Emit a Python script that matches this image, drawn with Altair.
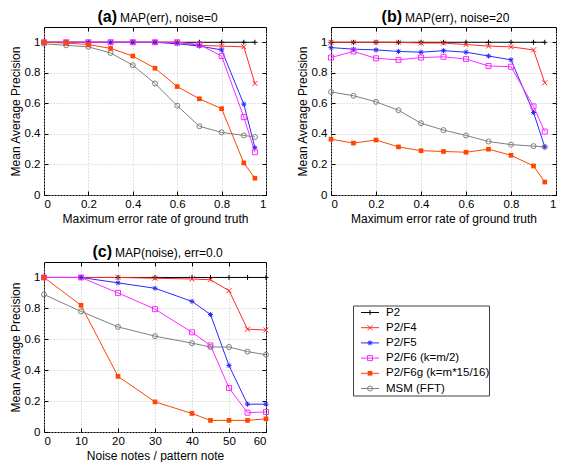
import altair as alt
import pandas as pd

FONT = "Liberation Sans"

# ---------------- data ----------------
series_names = ["P2", "P2/F4", "P2/F5", "P2/F6 (k=m/2)", "P2/F6g (k=m*15/16)", "MSM (FFT)"]

x_err = [0, 0.1, 0.2, 0.3, 0.4, 0.5, 0.6, 0.7, 0.8, 0.9, 0.95]

a_p2 = [1.00, 1.00, 1.00, 1.00, 1.00, 1.00, 1.00, 1.00, 1.00, 1.00, 1.00]
a_f4 = [1.00, 1.00, 1.00, 1.00, 1.00, 1.00, 1.00, 0.98, 0.975, 0.97, 0.73]
a_f5 = [1.00, 1.00, 1.00, 1.00, 1.00, 1.00, 0.99, 0.975, 0.95, 0.595, 0.31]
a_f6 = [1.00, 1.00, 1.00, 1.00, 1.00, 1.00, 1.00, 0.985, 0.91, 0.51, 0.28]
a_f6g = [1.00, 0.995, 0.985, 0.96, 0.91, 0.83, 0.71, 0.63, 0.565, 0.21, 0.11]
a_msm = [0.99, 0.98, 0.97, 0.93, 0.85, 0.73, 0.585, 0.45, 0.41, 0.39, 0.38]

b_p2 = [1.00, 1.00, 1.00, 1.00, 1.00, 1.00, 1.00, 1.00, 1.00, 1.00, 1.00]
b_f4 = [1.00, 1.00, 1.00, 1.00, 0.995, 0.995, 0.985, 0.975, 0.97, 0.95, 0.735]
b_f5 = [0.965, 0.955, 0.95, 0.94, 0.935, 0.945, 0.935, 0.91, 0.885, 0.54, 0.315]
b_f6 = [0.90, 0.94, 0.895, 0.885, 0.90, 0.905, 0.89, 0.845, 0.84, 0.58, 0.415]
b_f6g = [0.365, 0.34, 0.36, 0.315, 0.29, 0.285, 0.28, 0.30, 0.26, 0.19, 0.085]
b_msm = [0.675, 0.65, 0.61, 0.555, 0.47, 0.425, 0.39, 0.35, 0.33, 0.32, 0.315]

x_noise = [0, 10, 20, 30, 40, 45, 50, 55, 60]

c_p2 = [1.00, 1.00, 1.00, 1.00, 1.00, 1.00, 1.00, 1.00, 1.00]
c_f4 = [1.00, 1.00, 1.00, 0.995, 0.99, 0.985, 0.915, 0.665, 0.66]
c_f5 = [1.00, 1.00, 0.965, 0.93, 0.845, 0.76, 0.43, 0.18, 0.18]
c_f6 = [1.00, 1.00, 0.90, 0.795, 0.645, 0.56, 0.285, 0.125, 0.13]
c_f6g = [1.00, 0.82, 0.36, 0.195, 0.12, 0.075, 0.075, 0.075, 0.085]
c_msm = [0.89, 0.78, 0.68, 0.62, 0.575, 0.55, 0.55, 0.52, 0.50]

panel_letters = ["(a)", "(b)", "(c)"]
panel_labels = ["MAP(err), noise=0", "MAP(err), noise=20", "MAP(noise), err=0.0"]
x_titles = ["Maximum error rate of ground truth", "Maximum error rate of ground truth",
            "Noise notes / pattern note"]
err_ticks = [0, 0.2, 0.4, 0.6, 0.8, 1.0]
noise_ticks = [0, 10, 20, 30, 40, 50, 60]
y_ticks = [0, 0.2, 0.4, 0.6, 0.8, 1.0]

# ---------------- styles ----------------
series_colors = ["#000000", "#ff2a2a", "#2a2aff", "#ff2aff", "#ff4500", "#808080"]
PLUS = "M-1,0H1M0,-1V1"
CROSS = "M-1,-1L1,1M-1,1L1,-1"
STAR = "M-1,0H1M0,-1V1M-0.75,-0.75L0.75,0.75M-0.75,0.75L0.75,-0.75"
series_shapes = [PLUS, CROSS, STAR, "square", "square", "circle"]
FILLED = "P2/F6g (k=m*15/16)"

color_enc = alt.Color("series:N", scale=alt.Scale(domain=series_names, range=series_colors), legend=None)
shape_enc = alt.Shape("series:N", scale=alt.Scale(domain=series_names, range=series_shapes), legend=None)


def long_df(xs, ys_list):
    rows = []
    for name, ys in zip(series_names, ys_list):
        for xv, yv in zip(xs, ys):
            rows.append({"x": xv, "y": yv, "series": name})
    return pd.DataFrame(rows)


def panel(xs, ys_list, idx, xdomain, xticks, xfmt, letter_x, W, H):
    df = long_df(xs, ys_list)
    tdf = pd.DataFrame({"letter": [panel_letters[idx]], "label": [panel_labels[idx]]})
    xsc = alt.Scale(domain=xdomain, nice=False, zero=False)
    ysc = alt.Scale(domain=[0, 1.1], nice=False, zero=False)
    common = dict(domain=False, tickSize=4, offset=-4, tickColor="black", tickWidth=1)
    grid = dict(grid=True, gridColor="#c4c4c4", gridDash=[1, 2], gridWidth=1)
    xb = alt.Axis(orient="bottom", values=xticks, format=xfmt, title=x_titles[idx],
                  labelPadding=3, titlePadding=4, labelOverlap=False, **grid, **common)
    yl = alt.Axis(orient="left", values=y_ticks, format="~g", title="Mean Average Precision",
                  labelPadding=4, titlePadding=2, labelOverlap=False, **grid, **common)
    xt = alt.Axis(orient="top", values=xticks, labels=False, title="", grid=False, **common)
    yr = alt.Axis(orient="right", values=y_ticks, labels=False, title="", grid=False, **common)

    base = alt.Chart(df)
    lines = base.mark_line(strokeWidth=1).encode(
        x=alt.X("x:Q", scale=xsc, axis=xb),
        y=alt.Y("y:Q", scale=ysc, axis=yl),
        color=color_enc,
    )
    pts_open = base.transform_filter(alt.datum.series != FILLED).mark_point(
        filled=False, strokeWidth=1, size=25, opacity=1
    ).encode(
        x=alt.X("x:Q", scale=xsc, axis=xt),
        y=alt.Y("y:Q", scale=ysc, axis=yr),
        color=color_enc, shape=shape_enc,
    )
    pts_fill = base.transform_filter(alt.datum.series == FILLED).mark_point(
        filled=True, size=22, opacity=1
    ).encode(
        x=alt.X("x:Q", scale=xsc, axis=None),
        y=alt.Y("y:Q", scale=ysc, axis=None),
        color=color_enc, shape=shape_enc,
    )
    t1 = alt.Chart(tdf).mark_text(
        align="right", baseline="alphabetic", font=FONT, fontSize=16, fontWeight="bold", color="black"
    ).encode(x=alt.value(letter_x), y=alt.value(-5), text="letter:N")
    t2 = alt.Chart(tdf).mark_text(
        align="left", baseline="alphabetic", font=FONT, fontSize=12, color="black"
    ).encode(x=alt.value(letter_x + 3), y=alt.value(-5), text="label:N")
    return alt.layer(lines, pts_open, pts_fill, t1, t2).properties(width=W, height=H)


pa = panel(x_err, [a_p2, a_f4, a_f5, a_f6, a_f6g, a_msm], 0, [0, 1], err_ticks, "~g", 73, 222, 168)
pb = panel(x_err, [b_p2, b_f4, b_f5, b_f6, b_f6g, b_msm], 1, [0, 1], err_ticks, "~g", 71, 225, 168)
pc = panel(x_noise, [c_p2, c_f4, c_f5, c_f6, c_f6g, c_msm], 2, [0, 60], noise_ticks, "d", 68, 222, 170)

# ---------------- legend panel ----------------
LY0 = 44
ldf = pd.DataFrame({"series": series_names})
box_df = pd.DataFrame({"b": [0]})
lsc = alt.Scale(type="point", domain=series_names, range=[LY0 + 6.5, LY0 + 82.5], padding=0)
box = alt.Chart(box_df).mark_rect(fill="white", stroke="#404040", strokeWidth=1).encode(
    x=alt.value(0.5), x2=alt.value(136.5), y=alt.value(LY0), y2=alt.value(LY0 + 90)
)
lrule = alt.Chart(ldf).mark_rule(strokeWidth=1).encode(
    x=alt.value(8), x2=alt.value(26), y=alt.Y("series:N", scale=lsc, axis=None), color=color_enc
)
lopen = alt.Chart(ldf).transform_filter(alt.datum.series != FILLED).mark_point(
    filled=False, strokeWidth=1, size=25, opacity=1
).encode(x=alt.value(17), y=alt.Y("series:N", scale=lsc, axis=None), color=color_enc, shape=shape_enc)
lfill = alt.Chart(ldf).transform_filter(alt.datum.series == FILLED).mark_point(
    filled=True, size=22, opacity=1
).encode(x=alt.value(17), y=alt.Y("series:N", scale=lsc, axis=None), color=color_enc, shape=shape_enc)
ltext = alt.Chart(ldf).mark_text(
    align="left", baseline="middle", font=FONT, fontSize=11.5, color="black"
).encode(x=alt.value(33), y=alt.Y("series:N", scale=lsc, axis=None), text="series:N")
legend = alt.layer(box, lrule, lopen, lfill, ltext).properties(
    width=140, height=LY0 + 92, view=alt.ViewBackground(stroke="transparent")
)

chart = alt.vconcat(
    alt.hconcat(pa, pb, spacing=28),
    alt.hconcat(pc, legend, spacing=81),
    spacing=18,
).properties(padding=0).configure_view(
    stroke="black", strokeWidth=1
).configure_axis(
    labelFont=FONT, titleFont=FONT, labelFontSize=11.5, titleFontSize=12,
    labelColor="black", titleColor="black", titleFontWeight="normal"
)

chart.save("out.html", embed_options={"renderer": "svg", "actions": False})
